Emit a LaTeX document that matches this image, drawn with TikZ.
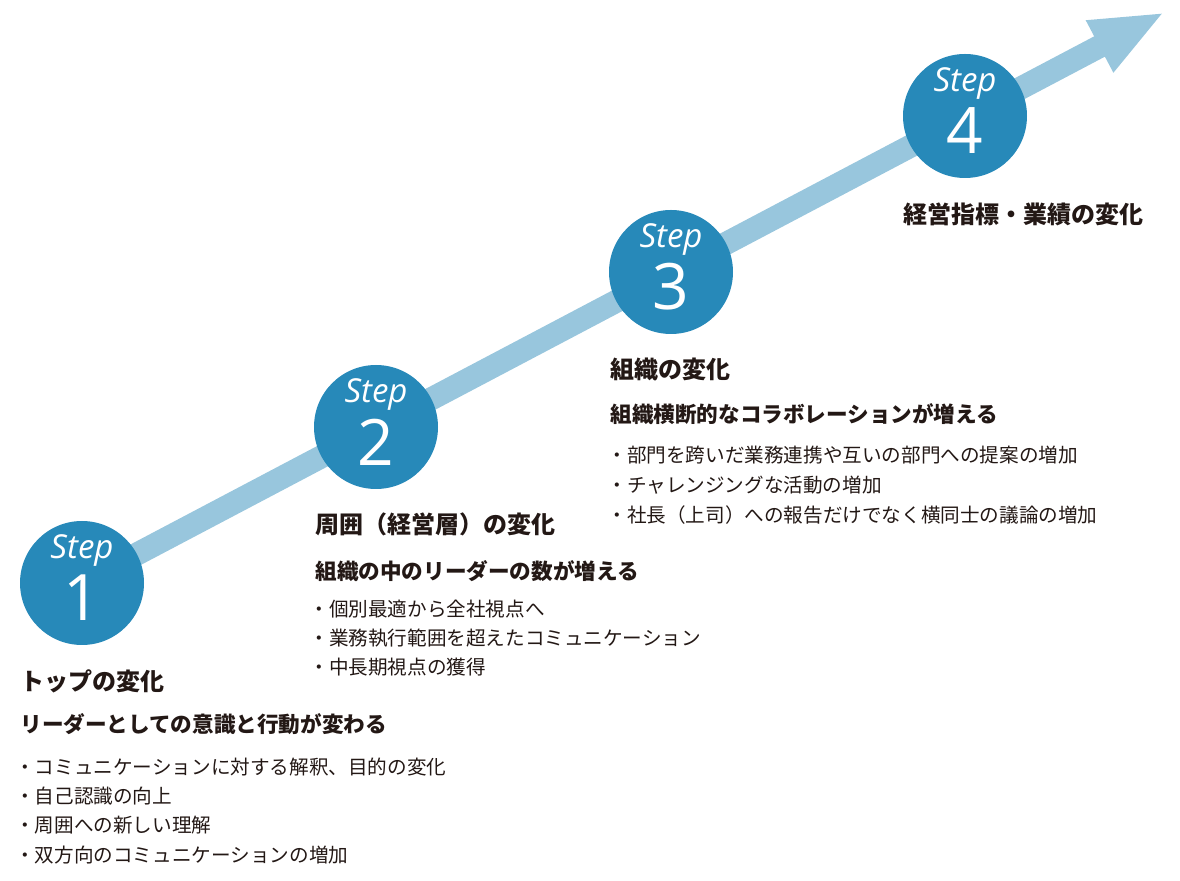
\documentclass[tikz,border=0pt]{standalone}
\usepackage{fontspec}
\usepackage{xcolor}
\usepackage{tikz}
\usetikzlibrary{arrows.meta,positioning,backgrounds}
\newfontfamily\jpfont{Noto Sans CJK JP}
\newfontfamily\stepfont{Open Sans}
\definecolor{stepBlue}{HTML}{2789B9}
\definecolor{flowBlue}{HTML}{98C6DD}
\definecolor{inkGray}{HTML}{231815}
\tikzset{
  stepdot/.style={circle, fill=stepBlue, minimum size=62pt, inner sep=0pt},
  stepword/.style={text=white, inner sep=0pt, font=\stepfont\itshape\fontsize{16.5}{17}\selectfont},
  stepnum/.style={text=white, inner sep=0pt, font=\stepfont\fontsize{32}{33}\selectfont},
  headline/.style={anchor=west, inner sep=0pt, text=inkGray, font=\jpfont\bfseries\fontsize{12}{14}\selectfont},
  subline/.style={anchor=west, inner sep=0pt, text=inkGray, font=\jpfont\bfseries\fontsize{10.8}{13}\selectfont},
  itemline/.style={anchor=west, inner sep=0pt, text=inkGray, font=\jpfont\fontsize{9.8}{12}\selectfont},
  flow/.style={draw=flowBlue, line width=11.5pt, -{Triangle[length=37pt, width=26.5pt]}},
}
\begin{document}
\begin{tikzpicture}[x=0.5pt, y=-0.5pt]
\useasboundingbox (0,0) rectangle (1180,881);
% the four steps
\foreach \x/\y [count=\i] in {82/583, 376/427, 671/272, 965/116}{
  \node[stepdot] (s\i) at (\x,\y) {};
  \node[stepword] (w\i) at ([yshift=16pt]s\i.center) {Step};
  \node[stepnum] (n\i) at ([yshift=-7.5pt]s\i.center) {\i};
}
\coordinate (tip) at (1165,12);
\begin{scope}[on background layer]
  \draw[flow] (s1.center) -- (tip);
\end{scope}
% step 1
\node[headline] (h1) at (20,681) {トップの変化};
\node[subline] (sub1) at (20,724) {リーダーとしての意識と行動が変わる};
\foreach \txt [count=\i] in {コミュニケーションに対する解釈、目的の変化, 自己認識の向上, 周囲への新しい理解, 双方向のコミュニケーションの増加}{
  \node[itemline] (a\i) at (15,{767+29.3*(\i-1)}) {・\txt};
}
% step 2
\node[headline] (h2) at (315,524) {周囲（経営層）の変化};
\node[subline] (sub2) at (315,571) {組織の中のリーダーの数が増える};
\foreach \txt [count=\i] in {個別最適から全社視点へ, 業務執行範囲を超えたコミュニケーション, 中長期視点の獲得}{
  \node[itemline] (b\i) at (309,{609+29*(\i-1)}) {・\txt};
}
% step 3
\node[headline] (h3) at (610,369) {組織の変化};
\node[subline] (sub3) at (610,414) {組織横断的なコラボレーションが増える};
\foreach \txt [count=\i] in {部門を跨いだ業務連携や互いの部門への提案の増加, チャレンジングな活動の増加, 社長（上司）への報告だけでなく横同士の議論の増加}{
  \node[itemline] (c\i) at (607,{455+30*(\i-1)}) {・\txt};
}
% step 4
\node[headline] (h4) at (903,214) {経営指標・業績の変化};
\end{tikzpicture}
\end{document}
